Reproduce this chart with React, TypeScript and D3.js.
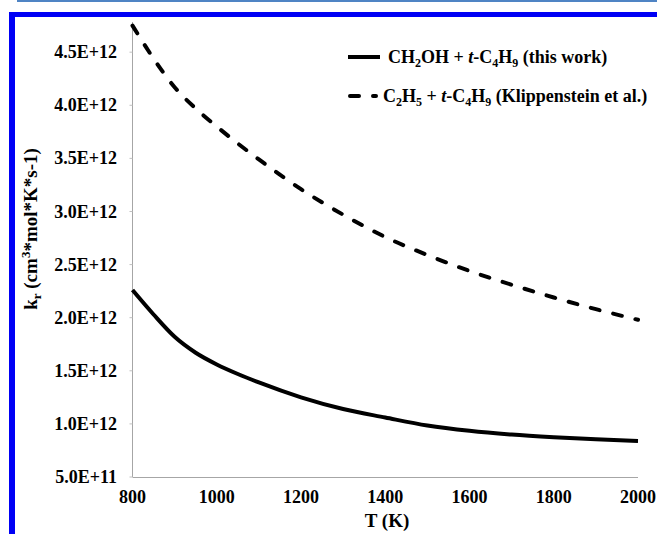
import { useEffect, useRef } from 'react';
import * as d3 from 'd3';

// temperatures (K) and rate constants in units of 1E+12
const temps = [800, 850, 900, 950, 1000, 1050, 1100, 1200, 1300, 1400, 1500, 1600, 1700, 1800, 1900, 2000];
const thisWork = [2.26, 2.03, 1.82, 1.67, 1.56, 1.47, 1.39, 1.25, 1.14, 1.06, 0.985, 0.935, 0.9, 0.875, 0.855, 0.84];
const klippenstein = [4.75, 4.44, 4.17, 3.97, 3.8, 3.64, 3.49, 3.21, 2.97, 2.76, 2.59, 2.44, 2.31, 2.19, 2.08, 1.98];
const yTicks = [0.5, 1.0, 1.5, 2.0, 2.5, 3.0, 3.5, 4.0, 4.5];
const xTicks = [800, 1000, 1200, 1400, 1600, 1800, 2000];

const FONT = '"Liberation Serif", "Times New Roman", serif';

const App = () => {
  const svgRef = useRef(null);

  useEffect(() => {
    const svg = d3.select(svgRef.current);
    svg.selectAll('*').remove();

    const width = 657;
    const height = 534;

    svg.append('rect').attr('width', width).attr('height', height).attr('fill', 'white');

    // page borders
    svg.append('rect').attr('x', 17).attr('y', 0).attr('width', width - 17).attr('height', 2).attr('fill', '#4f84c4');
    svg.append('rect').attr('x', 9).attr('y', 12).attr('width', width - 9).attr('height', 5).attr('fill', '#0000f5');
    svg.append('rect').attr('x', 9).attr('y', 12).attr('width', 6).attr('height', height - 12).attr('fill', '#0000f5');

    const xScale = d3.scaleLinear().domain([800, 2000]).range([132.5, 638]);
    const yScale = d3.scaleLinear().domain([0.5, 4.784]).range([477, 22]);

    // axes lines
    svg.append('line')
      .attr('x1', xScale(800)).attr('x2', xScale(800))
      .attr('y1', yScale(4.784)).attr('y2', yScale(0.5))
      .attr('stroke', '#a6a6a6').attr('stroke-width', 1);
    svg.append('line')
      .attr('x1', xScale(800)).attr('x2', xScale(2000))
      .attr('y1', yScale(0.5) + 0.5).attr('y2', yScale(0.5) + 0.5)
      .attr('stroke', '#a6a6a6').attr('stroke-width', 1);

    // y ticks + labels
    const fmt = (v) => {
      const n = v * 1e12;
      const e = Math.floor(Math.log10(n) + 1e-9);
      return `${(n / Math.pow(10, e)).toFixed(1)}E+${e}`;
    };
    svg.selectAll('.ytick')
      .data(yTicks)
      .enter()
      .append('line')
      .attr('x1', xScale(800) - 3).attr('x2', xScale(800))
      .attr('y1', (d) => yScale(d)).attr('y2', (d) => yScale(d))
      .attr('stroke', '#c0c0c0');
    svg.selectAll('.ylabel')
      .data(yTicks)
      .enter()
      .append('text')
      .attr('x', 117)
      .attr('y', (d) => yScale(d))
      .attr('dy', '0.34em')
      .attr('text-anchor', 'end')
      .style('font-family', FONT)
      .style('font-weight', 'bold')
      .style('font-size', '18px')
      .text((d) => fmt(d));

    svg.selectAll('.xlabel')
      .data(xTicks)
      .enter()
      .append('text')
      .attr('x', (d) => xScale(d))
      .attr('y', 503)
      .attr('text-anchor', 'middle')
      .style('font-family', FONT)
      .style('font-weight', 'bold')
      .style('font-size', '18px')
      .text((d) => d);

    svg.append('text')
      .attr('x', 387)
      .attr('y', 527)
      .attr('text-anchor', 'middle')
      .style('font-family', FONT)
      .style('font-weight', 'bold')
      .style('font-size', '19px')
      .text('T (K)');

    // y title
    const yTitle = svg.append('text')
      .attr('transform', 'translate(37,229) rotate(-90)')
      .attr('text-anchor', 'middle')
      .style('font-family', FONT)
      .style('font-weight', 'bold')
      .style('font-size', '19px');
    yTitle.append('tspan').text('k');
    yTitle.append('tspan').attr('dy', 4).style('font-size', '13px').text('r');
    yTitle.append('tspan').attr('dy', -4).text(' (cm');
    yTitle.append('tspan').attr('dy', -7).style('font-size', '13px').text('3');
    yTitle.append('tspan').attr('dy', 7).text('*mol*K*s-1)');

    // curves
    const idx = d3.range(temps.length);
    const solidLine = d3.line().curve(d3.curveMonotoneX)
      .x((i) => xScale(temps[i])).y((i) => yScale(thisWork[i]));
    const dashLine = d3.line().curve(d3.curveMonotoneX)
      .x((i) => xScale(temps[i])).y((i) => yScale(klippenstein[i]));

    svg.append('path')
      .attr('d', solidLine(idx))
      .attr('fill', 'none')
      .attr('stroke', 'black')
      .attr('stroke-width', 4);

    svg.append('path')
      .attr('d', dashLine(idx))
      .attr('fill', 'none')
      .attr('stroke', 'black')
      .attr('stroke-width', 4)
      .attr('stroke-linecap', 'round')
      .attr('stroke-dasharray', '9 14');

    // legend
    svg.append('line')
      .attr('x1', 348).attr('x2', 380).attr('y1', 57).attr('y2', 57)
      .attr('stroke', 'black').attr('stroke-width', 4);
    svg.append('line')
      .attr('x1', 350).attr('x2', 376).attr('y1', 96).attr('y2', 96)
      .attr('stroke', 'black').attr('stroke-width', 4)
      .attr('stroke-linecap', 'round')
      .attr('stroke-dasharray', '9 14');

    const addLegend = (x, y, parts) => {
      const t = svg.append('text')
        .attr('x', x).attr('y', y)
        .style('font-family', FONT)
        .style('font-weight', 'bold')
        .style('font-size', '18px');
      let shift = 0;
      parts.forEach((p) => {
        const ts = t.append('tspan').text(p.s);
        const target = p.sub ? 4 : 0;
        ts.attr('dy', target - shift);
        shift = target;
        if (p.sub) ts.style('font-size', '12px');
        if (p.it) ts.style('font-style', 'italic');
      });
    };
    addLegend(388, 63, [
      { s: 'CH' }, { s: '2', sub: true }, { s: 'OH + ' }, { s: 't', it: true }, { s: '-C' },
      { s: '4', sub: true }, { s: 'H' }, { s: '9', sub: true }, { s: ' (this work)' },
    ]);
    addLegend(383, 102, [
      { s: 'C' }, { s: '2', sub: true }, { s: 'H' }, { s: '5', sub: true }, { s: ' + ' },
      { s: 't', it: true }, { s: '-C' }, { s: '4', sub: true }, { s: 'H' }, { s: '9', sub: true },
      { s: ' (Klippenstein et al.)' },
    ]);
  }, []);

  return (
    <svg
      ref={svgRef}
      width={657}
      height={534}
      style={{ position: 'absolute', left: 0, top: 0, display: 'block' }}
    />
  );
};

export default App;
